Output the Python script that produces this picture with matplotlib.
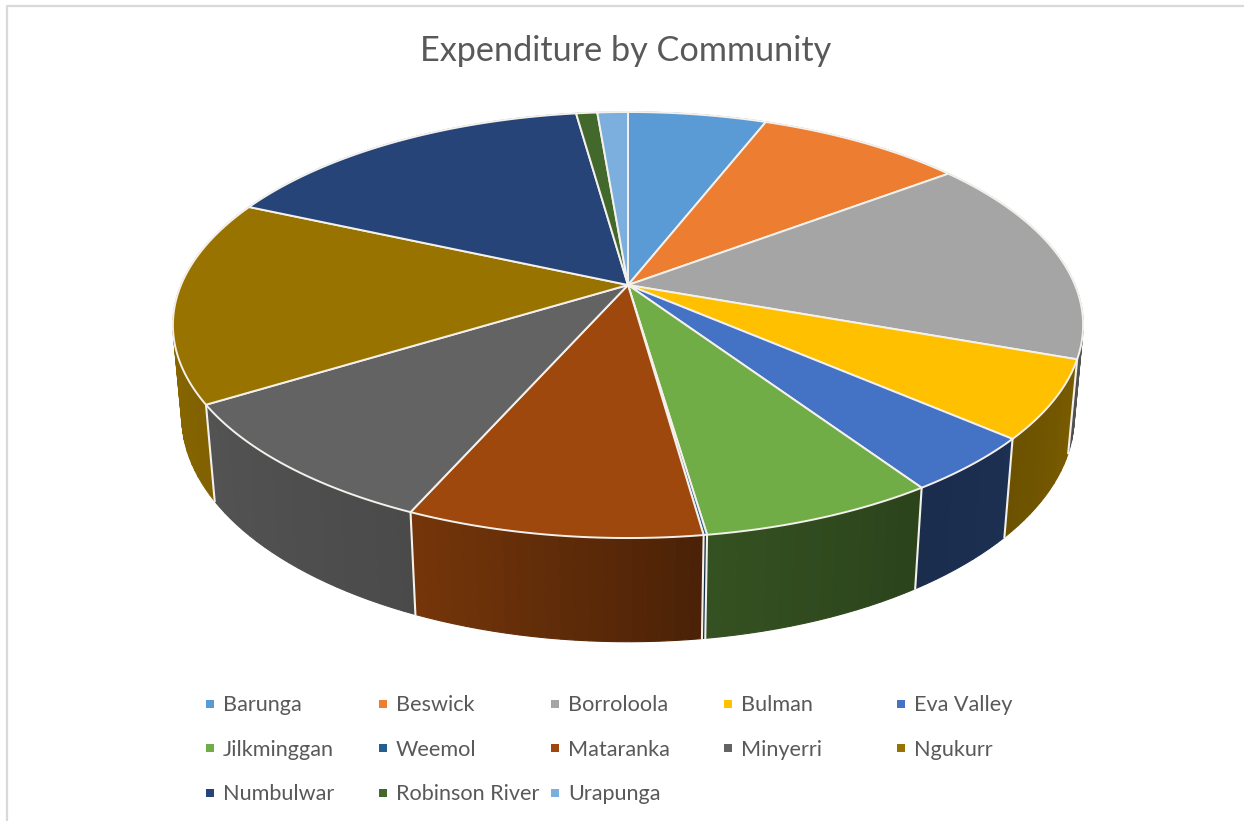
### Perspective pie of expenditure shares, side walls shaded strip by strip
import numpy as np
import matplotlib.pyplot as plt
from matplotlib.colors import to_rgb

plt.rcParams['font.family'] = ['Lato', 'DejaVu Sans']

communities = ['Barunga', 'Beswick', 'Borroloola', 'Bulman', 'Eva Valley',
               'Jilkminggan', 'Weemol', 'Mataranka', 'Minyerri', 'Ngukurr',
               'Numbulwar', 'Robinson River', 'Urapunga']
shares = [5.9, 8.8, 15.8, 5.9, 4.25, 7.05, 0.1, 8.8, 9.6, 15.5, 16.1, 0.9, 1.3]
colours = ['#5B9BD5', '#ED7D31', '#A5A5A5', '#FFC000', '#4472C4', '#70AD47',
           '#255E91', '#9E480E', '#636363', '#997300', '#264478', '#43682B',
           '#7CAFDD']

# camera set-up for the tilted disc
apex_x, apex_y = 628, 285
a, b, k = 447, 205.5, 0.1878
c, m = 91, 0.019

def project(theta, h):
    u = np.sin(theta)
    v = np.cos(theta)
    w = 1 + k*v + m*h
    return apex_x + a*u/w, apex_y - (b*v - c*h)/w

def wall_shade(theta):
    # brightness of the wall going round the rim, clockwise from the top
    deg = np.degrees(theta)
    return np.interp(deg, [90, 110, 131, 147, 172, 204, 238, 262, 290],
                     [0.55, 0.48, 0.42, 0.39, 0.47, 0.75, 0.84, 0.90, 0.95])

fig = plt.figure(figsize=(12.44, 8.21), dpi=100)
ax = fig.add_axes([0, 0, 1, 1])
ax.set_xlim(0, 1244)
ax.set_ylim(821, 0)
ax.axis('off')

# chart frame
ax.plot([6.5, 6.5, 1244], [821, 6.5, 6.5], color='#D9D9D9', lw=1.6, zorder=1)

angles = np.radians(np.cumsum([0] + shares) / sum(shares) * 360)

# side walls first, far strips before near ones
strips = []
for i in range(len(shares)):
    steps = max(2, int(np.degrees(angles[i+1] - angles[i]) / 1.5))
    t = np.linspace(angles[i], angles[i+1], steps + 1)
    for j in range(steps):
        strips.append((t[j], t[j+1], colours[i]))
strips.sort(key=lambda s: -np.cos((s[0] + s[1]) / 2))
for t0, t1, col in strips:
    t = np.linspace(t0, t1, 4)
    xt, yt = project(t, 0)
    xb, yb = project(t, 1)
    shade = wall_shade((t0 + t1) / 2)
    rgb = [shade*x for x in to_rgb(col)]
    ax.fill(np.r_[xt, xb[::-1]], np.r_[yt, yb[::-1]], color=rgb, lw=0.8, zorder=2)

# white seams where the front slices meet
for ang in angles:
    if np.radians(100) < ang < np.radians(265):
        xs, ys = project(np.array([ang, ang]), np.array([0, 1]))
        ax.plot(xs, ys, color='#F4F1EC', lw=1.5, zorder=3)

# top face
for i in range(len(shares)):
    t = np.linspace(angles[i], angles[i+1], 80)
    x, y = project(t, 0)
    ax.fill(np.r_[apex_x, x], np.r_[apex_y, y], facecolor=colours[i],
            edgecolor='#F4F1EC', lw=1.4, joinstyle='round', zorder=4)

ax.text(626, 51, 'Expenditure by Community', color='#595959', fontsize=24.7,
        ha='center', va='center', zorder=5)

# legend laid out row by row
for i, name in enumerate(communities):
    row, col = divmod(i, 5)
    key_x = 210 + 172.7*col
    key_y = 704 + 44.5*row
    ax.scatter(key_x, key_y, marker='s', s=30, color=colours[i], lw=0, zorder=5)
    ax.text(key_x + 13, key_y + 1, name, color='#595959', fontsize=15.6,
            ha='left', va='center', zorder=5)

fig.savefig('out.png', dpi=100)
